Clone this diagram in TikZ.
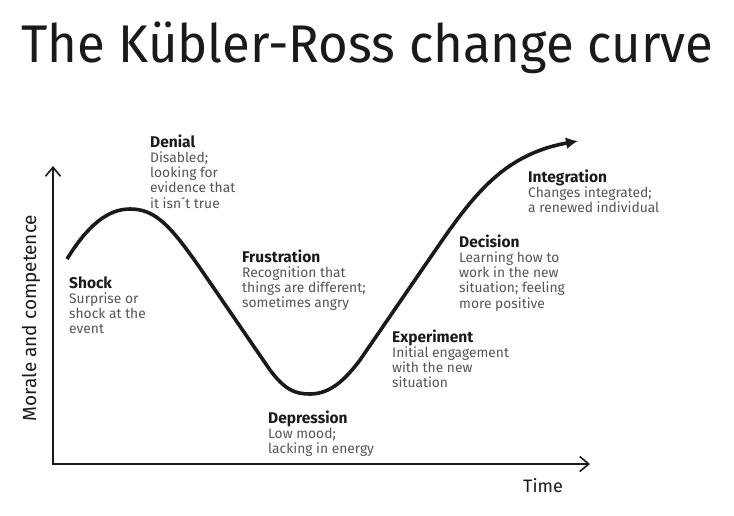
\documentclass[tikz,border=0pt]{standalone}
\usepackage{fontspec}
\usepackage{graphicx}
\setmainfont{Fira Sans}
\usetikzlibrary{arrows.meta}
\definecolor{ink}{HTML}{1A1A1A}
\definecolor{bodygray}{HTML}{555555}
\newcommand{\stage}[2]{\fontsize{13.8}{15}\selectfont\color{bodygray}\begin{tabular}[t]{@{}l@{}}{\fontsize{15.5}{15}\selectfont\bfseries\color{ink}#1}\\ #2\end{tabular}}
\begin{document}
\begin{tikzpicture}[x=1pt,y=-1pt,
  axisline/.style={draw=ink, line width=1.8pt, {Straight Barb[length=9pt,width=15pt,line width=1.6pt]}-{Straight Barb[length=9pt,width=15pt,line width=1.6pt]}},
  curveline/.style={draw=ink, line width=3.6pt, -{Latex[length=12pt,width=12pt]}},
  label/.style={anchor=base west, inner sep=0pt, text=ink},
  stagebox/.style={anchor=base west, inner sep=0pt}]
\useasboundingbox (0,0) rectangle (734,515);
\fill[white] (0,0) rectangle (734,515);
\node[label, font=\fontsize{53}{60}\selectfont] (title) at (21,62) {\resizebox{692pt}{\height}{The Kübler-Ross change curve}};
\coordinate (ytip) at (53,166);
\coordinate (origin) at (53,464);
\coordinate (xtip) at (590,464);
\draw[axisline] (ytip) -- (origin) -- (xtip);
\node[rotate=90, anchor=base, inner sep=0pt, text=ink, font=\fontsize{19}{20}\selectfont] (ylabel) at (36,318) {Morale and competence};
\node[label, font=\fontsize{18}{20}\selectfont] (xlabel) at (523,492) {Time};
\coordinate (start) at (67,259);
\coordinate (endc) at (578,141);
\draw[curveline] (start) .. controls (88,225) and (108,209) .. (130,209)
  .. controls (155,209) and (170,225) .. (200,268)
  -- (270,370)
  .. controls (285,390) and (295,394) .. (310,394)
  .. controls (330,394) and (345,380) .. (360,360)
  -- (430,258)
  .. controls (470,200) and (500,155) .. (endc);
\node[stagebox] (shock) at (69,288) {\stage{Shock}{Surprise or\\ shock at the\\ event}};
\node[stagebox] (denial) at (150,147) {\stage{Denial}{Disabled;\\ looking for\\ evidence that\\ it isn´t true}};
\node[stagebox] (frustration) at (242,262) {\stage{Frustration}{Recognition that\\ things are different;\\ sometimes angry}};
\node[stagebox] (depression) at (268,423) {\stage{Depression}{Low mood;\\ lacking in energy}};
\node[stagebox] (experiment) at (392,342) {\stage{Experiment}{Initial engagement\\ with the new\\ situation}};
\node[stagebox] (decision) at (459,247) {\stage{Decision}{Learning how to\\ work in the new\\ situation; feeling\\ more positive}};
\node[stagebox] (integration) at (528,182) {\stage{Integration}{Changes integrated;\\ a renewed individual}};
\end{tikzpicture}
\end{document}
